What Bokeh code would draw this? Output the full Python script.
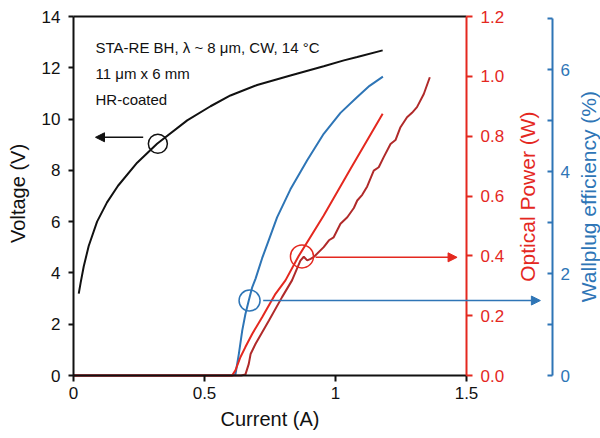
import math
from bokeh.plotting import figure
from bokeh.models import (Range1d, LinearAxis, FixedTicker, Arrow, NormalHead,
                          Label, NumeralTickFormatter)
from bokeh.core.properties import value
from bokeh.embed import file_html
from bokeh.resources import INLINE

# ---------------- data ----------------
volt_i = [0.02, 0.027, 0.039, 0.058, 0.09, 0.128, 0.17, 0.243, 0.319,
          0.434, 0.523, 0.599, 0.701, 0.828, 0.955, 1.032, 1.083, 1.18]
volt_v = [3.19, 3.6, 4.25, 5.05, 6.0, 6.75, 7.4, 8.3, 9.04,
          9.95, 10.5, 10.92, 11.33, 11.7, 12.06, 12.29, 12.42, 12.68]

wpe_i = [0.0, 0.605, 0.618, 0.631, 0.644, 0.656, 0.669, 0.682, 0.695, 0.72,
         0.745, 0.777, 0.828, 0.892, 0.955, 1.019, 1.083, 1.13, 1.181]
wpe_w = [0.0, 0.0, 0.02, 0.42, 0.88, 1.2, 1.47, 1.73, 1.9, 2.3,
         2.65, 3.1, 3.65, 4.22, 4.74, 5.15, 5.46, 5.68, 5.86]

pow1_i = [0.0, 0.605, 0.618, 0.637, 0.656, 0.682, 0.72, 0.771, 0.809, 0.86,
          0.955, 1.057, 1.18]
pow1_p = [0.0, 0.0, 0.017, 0.061, 0.095, 0.139, 0.195, 0.273, 0.318, 0.4,
          0.535, 0.69, 0.875]

pow2_i = [0.0, 0.64, 0.656, 0.669, 0.676, 0.695, 0.746, 0.796, 0.834, 0.866,
          0.879, 0.892, 0.905, 0.918, 0.955, 0.975, 0.993, 1.019, 1.045, 1.07,
          1.083, 1.102, 1.121, 1.146, 1.165, 1.184, 1.21, 1.229, 1.248, 1.273,
          1.292, 1.311, 1.337, 1.36]
pow2_p = [0.0, 0.0, 0.003, 0.039, 0.072, 0.106, 0.184, 0.262, 0.318, 0.384,
          0.397, 0.385, 0.39, 0.397, 0.429, 0.452, 0.462, 0.507, 0.529, 0.56,
          0.585, 0.604, 0.632, 0.685, 0.696, 0.73, 0.774, 0.787, 0.83, 0.863,
          0.878, 0.897, 0.941, 0.997]

x_ticks = [0, 0.5, 1, 1.5]
v_ticks = [0, 2, 4, 6, 8, 10, 12, 14]
p_ticks = [0.0, 0.2, 0.4, 0.6, 0.8, 1.0, 1.2]
w_ticks = [0, 1, 2, 3, 4, 5, 6, 7]

info_lines = ["STA-RE BH, λ ~ 8 μm, CW, 14 °C", "11 μm x 6 mm", "HR-coated"]
voltage_title = "Voltage (V)"
current_title = "Current (A)"
power_title = "Optical Power (W)"
wpe_title = "Wallplug efficiency (%)"

# markers (circle on each curve) and arrows pointing to the relevant axis
v_mark = (0.322, 9.04)
p_mark = (0.872, 0.398)
w_mark = (0.672, 1.47)

# ---------------- geometry & style ----------------
FONT = "Liberation Sans"
BLACK = "#111111"
RED = "#e4281f"
DRED = "#b02a2a"
BLUE = "#2e75b6"

W, H = 600, 438
LEFT = 73                  # x pixel of the voltage axis (current = 0)
AX_TOP, AX_BOT = 16, 375   # pixel rows of the top and bottom of the axes box
X_PX_PER_A = 262.0


def span(lo, hi):
    """Range whose [lo, hi] maps onto rows AX_BOT..AX_TOP of a full-height frame."""
    k = (AX_BOT - AX_TOP) / (hi - lo)
    return Range1d(lo - (H - AX_BOT) / k, hi + AX_TOP / k)


# the frame fills the whole canvas; every axis is drawn at a fixed position
p = figure(width=W, height=H,
           x_range=Range1d(-LEFT / X_PX_PER_A, (W - LEFT) / X_PX_PER_A),
           y_range=span(0, 14), output_backend="svg", toolbar_location=None,
           min_border_left=0, min_border_right=0, min_border_top=0,
           min_border_bottom=0)
p.extra_y_ranges = {"power": span(0, 1.2), "wpe": span(0, 7.04)}
p.xgrid.visible = False
p.ygrid.visible = False
p.outline_line_color = None
p.background_fill_color = "white"
p.border_fill_color = "white"


def style_axis(ax, color, tick_in, tick_out, lab_stand, axlab_stand):
    ax.axis_line_color = color
    ax.axis_line_width = 2
    ax.major_tick_line_color = color
    ax.major_tick_line_width = 2
    ax.major_tick_in = tick_in
    ax.major_tick_out = tick_out
    ax.minor_tick_line_color = None
    ax.major_label_text_color = color
    ax.major_label_text_font = FONT
    ax.major_label_text_font_size = "17px"
    ax.major_label_standoff = lab_stand
    ax.axis_label_text_color = color
    ax.axis_label_text_font = FONT
    ax.axis_label_text_font_size = "20px"
    ax.axis_label_text_font_style = "normal"
    ax.axis_label_standoff = axlab_stand


xa = p.xaxis[0]
xa.ticker = FixedTicker(ticks=x_ticks)
xa.bounds = (0, 1.5)
xa.fixed_location = 0
xa.major_label_overrides = {0: "0", 0.5: "0.5", 1: "1", 1.5: "1.5"}
xa.axis_label = current_title
style_axis(xa, BLACK, 0, 6, 5, 6)

ya = p.yaxis[0]
ya.ticker = FixedTicker(ticks=v_ticks)
ya.bounds = (0, 14)
ya.fixed_location = 0
style_axis(ya, BLACK, 0, 5, 8, 0)

top = LinearAxis(ticker=FixedTicker(ticks=[]), bounds=(0, 1.5), fixed_location=14)
top.axis_line_color = BLACK
top.axis_line_width = 2
top.major_label_text_font_size = "0px"
top.major_tick_line_color = None
top.minor_tick_line_color = None
p.add_layout(top, "above")

pa = LinearAxis(y_range_name="power", ticker=FixedTicker(ticks=p_ticks),
                formatter=NumeralTickFormatter(format="0.0"), bounds=(0, 1.2),
                fixed_location=1.5)
style_axis(pa, RED, 0, 6, 8, 0)
p.add_layout(pa, "right")

wa = LinearAxis(y_range_name="wpe", ticker=FixedTicker(ticks=w_ticks), bounds=(0, 7),
                fixed_location=1.828)
wa.major_label_overrides = {1: "", 3: "", 5: "", 7: ""}
style_axis(wa, BLUE, 5, 0, 8, 0)
p.add_layout(wa, "right")

# vertical axis titles, reading bottom-to-top
p.text(x=[-0.21], y=[7.1], text=[voltage_title], angle=math.pi / 2,
       text_align="center", text_baseline="middle", text_font=value(FONT),
       text_font_size="20px", text_color=BLACK)
p.text(x=[1.733], y=[0.598], text=[power_title], angle=math.pi / 2,
       text_align="center", text_baseline="middle", text_font=value(FONT),
       text_font_size="21px", text_color=RED, y_range_name="power")
p.text(x=[1.965], y=[0.598], text=[wpe_title], angle=math.pi / 2,
       text_align="center", text_baseline="middle", text_font=value(FONT),
       text_font_size="21px", text_color=BLUE, y_range_name="power")

# ---------------- curves ----------------
p.line(volt_i, volt_v, line_color=BLACK, line_width=2)
p.line(wpe_i, wpe_w, line_color=BLUE, line_width=2, y_range_name="wpe")
p.line(pow2_i, pow2_p, line_color=DRED, line_width=2, y_range_name="power")
p.line(pow1_i, pow1_p, line_color=RED, line_width=2, y_range_name="power")

# ---------------- markers & arrows ----------------
p.scatter([v_mark[0]], [v_mark[1]], marker="circle", size=19, fill_color=None,
          line_color=BLACK, line_width=1.5)
p.scatter([p_mark[0]], [p_mark[1]], marker="circle", size=23, fill_color=None,
          line_color=RED, line_width=1.5, y_range_name="power")
p.scatter([w_mark[0]], [w_mark[1]], marker="circle", size=21, fill_color=None,
          line_color=BLUE, line_width=1.5, y_range_name="wpe")

p.add_layout(Arrow(start=None, end=NormalHead(size=9, fill_color=BLACK, line_color=BLACK),
                   x_start=0.266, y_start=9.29, x_end=0.084, y_end=9.29,
                   line_color=BLACK, line_width=1.5))
p.add_layout(Arrow(start=None, end=NormalHead(size=9, fill_color=RED, line_color=RED),
                   x_start=0.924, y_start=0.395, x_end=1.464, y_end=0.395,
                   line_color=RED, line_width=1.5, y_range_name="power"))
p.add_layout(Arrow(start=None, end=NormalHead(size=9, fill_color=BLUE, line_color=BLUE),
                   x_start=0.724, y_start=1.47, x_end=1.782, y_end=1.47,
                   line_color=BLUE, line_width=1.5, y_range_name="wpe"))

# ---------------- text ----------------
for txt, yy in zip(info_lines, [12.79, 11.78, 10.76]):
    p.add_layout(Label(x=0.084, y=yy, text=txt, text_font=FONT,
                       text_font_size="15px", text_color=BLACK,
                       text_baseline="alphabetic"))

open("out.html", "w").write(file_html(p, INLINE))
